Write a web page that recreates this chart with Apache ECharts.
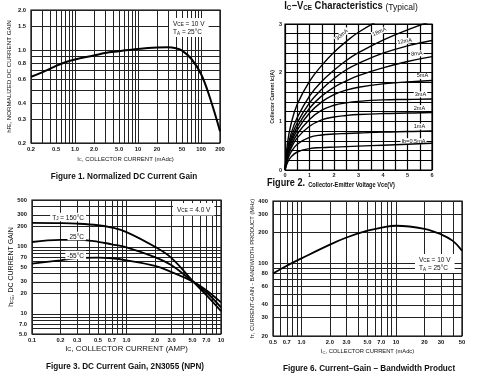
<!DOCTYPE html>
<html><head><meta charset="utf-8">
<script src="https://cdn.jsdelivr.net/npm/echarts@6/dist/echarts.min.js"></script>
<style>html,body{margin:0;padding:0;background:#fff}#c{width:480px;height:384px}</style>
</head><body><div id="c"></div>
<script>
// ---------- Figure 1: Normalized DC current gain ----------
const f1Ic   = [0.2, 0.3, 0.5, 0.7, 1, 2, 3, 5, 7, 10, 20, 30, 40, 50, 70, 100, 140, 200];
const f1Hfe  = [0.63, 0.68, 0.76, 0.81, 0.85, 0.91, 0.95, 0.98, 1.0, 1.02, 1.045, 1.05, 1.03, 0.99, 0.86, 0.66, 0.43, 0.245];
const f1XGrid = [0.2,0.3,0.4,0.5,0.6,0.7,0.8,0.9,1,2,3,4,5,6,7,8,9,10,20,30,40,50,60,70,80,90,100,200];
const f1XTickVals = [0.2,0.5,1,2,5,10,20,50,100,200];
const f1XTickText = ['0.2','0.5','1.0','2.0','5.0','10','20','50','100','200'];
const f1YGrid = [0.2,0.3,0.4,0.5,0.6,0.7,0.8,0.9,1.0,1.5,2.0];
const f1YTickVals = [0.2,0.3,0.4,0.6,0.8,1.0,1.5,2.0];
const f1YTickText = ['0.2','0.3','0.4','0.6','0.8','1.0','1.5','2.0'];

// ---------- Figure 2: Ic-Vce characteristics ----------
const f2Vce = [0, 0.1, 0.25, 0.5, 1, 1.5, 2, 2.5, 3, 4, 5, 6];
const f2Ib = ['30mA','18mA','12mA','8mA','5mA','3mA','2mA','1mA','Ib=0.5mA'];
const f2Ic30  = [0, 0.55, 0.95, 1.35, 1.82, 2.15, 2.42, 2.64, 2.83, 3.12, 3.35, 3.55];
const f2Ic18  = [0, 0.42, 0.75, 1.08, 1.52, 1.82, 2.05, 2.25, 2.41, 2.67, 2.88, 3.06];
const f2Ic12  = [0, 0.37, 0.67, 0.97, 1.38, 1.66, 1.88, 2.06, 2.19, 2.4, 2.55, 2.66];
const f2Ic8   = [0, 0.33, 0.61, 0.89, 1.27, 1.52, 1.7, 1.83, 1.94, 2.1, 2.23, 2.33];
const f2Ic5   = [0, 0.3, 0.56, 0.82, 1.17, 1.4, 1.55, 1.64, 1.7, 1.77, 1.81, 1.84];
const f2Ic3   = [0, 0.27, 0.5, 0.74, 1.04, 1.23, 1.33, 1.38, 1.41, 1.44, 1.45, 1.46];
const f2Ic2   = [0, 0.24, 0.45, 0.66, 0.9, 1.03, 1.09, 1.12, 1.14, 1.16, 1.17, 1.18];
const f2Ic1   = [0, 0.2, 0.37, 0.53, 0.67, 0.72, 0.74, 0.75, 0.76, 0.78, 0.79, 0.8];
const f2Ic05  = [0, 0.15, 0.27, 0.37, 0.44, 0.46, 0.47, 0.48, 0.49, 0.51, 0.53, 0.55];
const f2LabelIdx = [7, 9, 10, 10, 10, 10, 10, 10, 10];
const f2XTicks = ['0','1','2','3','4','5','6'];
const f2YTicks = ['0','1','2','3'];

// ---------- Figure 3: DC current gain 2N3055 ----------
const f3Ic    = [0.1, 0.2, 0.3, 0.5, 0.7, 1, 2, 3, 5, 7, 10];
const f3T150  = [228, 226, 222, 210, 194, 166, 100, 68, 31, 19, 11];
const f3T25   = [118, 127, 127, 119, 109, 98, 70, 53, 30.5, 21, 12.5];
const f3Tm55  = [56, 63, 68, 69, 67.5, 63, 52, 42, 30.5, 22.5, 14.8];
const f3Names = ['TJ = 150°C','25°C','-55°C'];
const f3XGrid = [0.1,0.2,0.3,0.4,0.5,0.6,0.7,0.8,0.9,1,2,3,4,5,6,7,8,9,10];
const f3XTickVals = [0.1,0.2,0.3,0.5,0.7,1,2,3,5,7,10];
const f3XTickText = ['0.1','0.2','0.3','0.5','0.7','1.0','2.0','3.0','5.0','7.0','10'];
const f3YGrid = [5,6,7,8,9,10,20,30,40,50,60,70,80,90,100,200,300,400,500];
const f3YTickVals = [5,7,10,20,30,50,70,100,200,300,500];
const f3YTickText = ['5.0','7.0','10','20','30','50','70','100','200','300','500'];

// ---------- Figure 6: current-gain bandwidth product ----------
const f4Ic = [0.5, 0.7, 1, 2, 3, 5, 7, 10, 20, 30, 40, 50];
const f4Ft = [80, 95, 112, 152, 178, 207, 221, 231, 216, 191, 165, 133];
const f4XGrid = [0.5,0.6,0.7,0.8,0.9,1,2,3,4,5,6,7,8,9,10,20,30,40,50];
const f4XTickVals = [0.5,0.7,1,2,3,5,7,10,20,30,50];
const f4XTickText = ['0.5','0.7','1.0','2.0','3.0','5.0','7.0','10','20','30','50'];
const f4YGrid = [20,30,40,50,60,70,80,90,100,200,300,400];
const f4YTickVals = [20,30,40,60,80,100,200,300,400];
const f4YTickText = ['20','30','40','60','80','100','200','300','400'];

const FONT = 'Liberation Sans, Arial, sans-serif';
const TICK = {color:'#111', fontSize:5.8, fontWeight:'bold', fontFamily:FONT};

function gridLines(dim, vals, tickVals, tickText, dist){
  return vals.map(v => {
    const item = {}; item[dim] = v;
    const k = tickVals.findIndex(t => Math.abs(t - v) < 1e-9);
    if (k >= 0) item.label = Object.assign({show:true, position:'start', formatter: tickText[k], distance: dist}, TICK);
    return item;
  });
}
function markLines(xv, xt, xl, yv, yt, yl){
  return {
    silent:true, symbol:['none','none'], animation:false,
    lineStyle:{color:'#222', width:1, type:'solid'},
    label:{show:false}, emphasis:{disabled:true},
    data: gridLines('xAxis', xv, xt, xl, 3).concat(gridLines('yAxis', yv, yt, yl, 5))
  };
}
function pairs(xs, ys){ return xs.map((x,i)=>[x, ys[i]]); }

function mkRich(sz){
  return {
    n:{fontSize:sz, fontFamily:FONT, color:'#111', lineHeight:sz+2, verticalAlign:'bottom'},
    s:{fontSize:sz*0.72, fontFamily:FONT, color:'#111', lineHeight:sz*0.72+0.5, verticalAlign:'bottom'}
  };
}
function nameStyle(sz){ return {fontFamily:FONT, fontSize:sz, color:'#111', rich: mkRich(sz)}; }

const chart = echarts.init(document.getElementById('c'), null, {renderer:'canvas'});

const grids = [
  {left:31, top:10, width:189, height:133},
  {left:285, top:24, width:147, height:146},
  {left:32, top:200, width:189, height:134},
  {left:273, top:201, width:189, height:135}
].map(g => Object.assign({show:true, borderColor:'#000', borderWidth:1.2, backgroundColor:'#fff'}, g));

function logAxis(gi, min, max, name, gap, isY, sz){
  return {
    type:'log', logBase:10, gridIndex:gi, min:min, max:max,
    axisLine:{show:false}, axisTick:{show:false}, axisLabel:{show:false}, splitLine:{show:false}, minorSplitLine:{show:false},
    name:name, nameLocation:'middle', nameGap:gap, nameRotate: isY ? 90 : 0, nameTextStyle:nameStyle(sz)
  };
}

const f2Curves = [f2Ic30, f2Ic18, f2Ic12, f2Ic8, f2Ic5, f2Ic3, f2Ic2, f2Ic1, f2Ic05];
const f2LabelStyle = [
  {offset:[1,-8], rotate:40}, {offset:[0,-9], rotate:24}, {offset:[-2,-5], rotate:10},
  {offset:[10,-7], rotate:5}, {offset:[15,-6], rotate:0}, {offset:[13,-5], rotate:0},
  {offset:[12,-5], rotate:0}, {offset:[12,-5], rotate:0}, {offset:[6,-3], rotate:0}
];

const series = [];
series.push({
  type:'line', xAxisIndex:0, yAxisIndex:0, data:pairs(f1Ic, f1Hfe), smooth:0.4, showSymbol:false,
  lineStyle:{color:'#000', width:2}, z:5,
  markLine: markLines(f1XGrid, f1XTickVals, f1XTickText, f1YGrid, f1YTickVals, f1YTickText)
});
f2Curves.forEach((c, i) => {
  const k = f2LabelIdx[i];
  series.push({
    type:'line', xAxisIndex:1, yAxisIndex:1, data:pairs(f2Vce, c), smooth:0.45, showSymbol:false,
    lineStyle:{color:'#000', width:1.4}, z:5,
    markPoint:{symbol:'circle', symbolSize:0, silent:true, animation:false,
      data:[{coord:[f2Vce[k], c[k]], label:{show:true, position:'inside', formatter:f2Ib[i],
        offset:f2LabelStyle[i].offset, rotate:f2LabelStyle[i].rotate,
        fontSize:5.6, fontFamily:FONT, color:'#111', backgroundColor:'#fff', padding:[0,1]}}]}
  });
});
[f3T150, f3T25, f3Tm55].forEach((c, i) => {
  const s = {type:'line', xAxisIndex:2, yAxisIndex:2, data:pairs(f3Ic, c), smooth:0.4, showSymbol:false,
    lineStyle:{color:'#000', width:1.8}, z:5, name:f3Names[i]};
  if (i === 0) s.markLine = markLines(f3XGrid, f3XTickVals, f3XTickText, f3YGrid, f3YTickVals, f3YTickText);
  series.push(s);
});
series.push({
  type:'line', xAxisIndex:3, yAxisIndex:3, data:pairs(f4Ic, f4Ft), smooth:0.4, showSymbol:false,
  lineStyle:{color:'#000', width:1.8}, z:5,
  markLine: markLines(f4XGrid, f4XTickVals, f4XTickText, f4YGrid, f4YTickVals, f4YTickText)
});

function txt(x, y, text, opts, sx){
  const el = {type:'text', x:x, y:y, z:100, silent:true,
    style:Object.assign({text:text, fontFamily:FONT, fontSize:6.5, fill:'#111', rich:mkRich(6.5)}, opts||{})};
  if (sx) { el.scaleX = sx; }
  return el;
}
const capRich = {
  cap:{fontSize:9.4, fontWeight:'bold', fontFamily:FONT, color:'#111'},
  f2:{fontSize:10.5, fontWeight:'bold', fontFamily:FONT, color:'#111', verticalAlign:'bottom', lineHeight:12},
  f2s:{fontSize:6.5, fontWeight:'bold', fontFamily:FONT, color:'#111', verticalAlign:'bottom', lineHeight:9},
  t:{fontSize:10.5, fontWeight:'bold', fontFamily:FONT, color:'#111', verticalAlign:'bottom', lineHeight:12},
  ts:{fontSize:7, fontWeight:'bold', fontFamily:FONT, color:'#111', verticalAlign:'bottom', lineHeight:10},
  tn:{fontSize:9.5, fontFamily:FONT, color:'#111', verticalAlign:'bottom', lineHeight:12}
};

const graphics = [
  txt(124, 176, '{cap|Figure 1. Normalized DC Current Gain}', {align:'center', verticalAlign:'middle', rich:capRich}, 0.87),
  txt(125, 366, '{cap|Figure 3. DC Current Gain, 2N3055 (NPN)}', {align:'center', verticalAlign:'middle', rich:capRich}, 0.87),
  txt(369, 368, '{cap|Figure 6. Current\u2013Gain \u2013 Bandwidth Product}', {align:'center', verticalAlign:'middle', rich:capRich}, 0.87),
  txt(267, 183, '{f2|Figure 2.}{f2s|  Collector-Emitter Voltage Vce(V)}', {align:'left', verticalAlign:'middle', rich:capRich}, 0.87),
  txt(351, 6, '{t|I}{ts|C}{t|\u2212V}{ts|CE}{t| Characteristics }{tn|(Typical)}', {align:'center', verticalAlign:'middle', rich:capRich}, 0.9),
  txt(169, 18, '{n|V}{s|CE}{n| = 10 V}\n{n|T}{s|A}{n| = 25°C}', {backgroundColor:'#fff', padding:[1,4,1,4]}),
  txt(173, 203, '{n|V}{s|CE}{n| = 4.0 V}', {backgroundColor:'#fff', padding:[2,4,2,4]}),
  txt(415, 254, '{n|V}{s|CE}{n| = 10 V}\n{n|T}{s|A}{n| = 25°C}', {backgroundColor:'#fff', padding:[1,4,1,4]}),
  txt(86, 217, '{n|T}{s|J}{n| = 150°C}', {align:'right', verticalAlign:'middle', backgroundColor:'#fff', padding:[0,2]}),
  txt(86, 236, '{n|25°C}', {align:'right', verticalAlign:'middle', backgroundColor:'#fff', padding:[0,2]}),
  txt(86, 255, '{n|-55°C}', {align:'right', verticalAlign:'middle', backgroundColor:'#fff', padding:[0,2]})
];

chart.setOption({
  animation:false,
  grid:grids,
  xAxis:[
    logAxis(0, 0.2, 200, '{n|I}{s|C}{n|, COLLECTOR CURRENT (mAdc)}', 11, false, 6),
    {type:'value', gridIndex:1, min:0, max:6, interval:0.5,
      axisLine:{show:false}, axisTick:{show:false},
      axisLabel:{fontSize:5.5, fontWeight:'bold', fontFamily:FONT, color:'#222', margin:2,
        formatter:v => (Math.abs(v - Math.round(v)) < 1e-6 ? f2XTicks[Math.round(v)] : '')},
      splitLine:{show:true, lineStyle:{color:'#000', width:1.2}}},
    logAxis(2, 0.1, 10, '{n|I}{s|C}{n|, COLLECTOR CURRENT (AMP)}', 9, false, 7.8),
    logAxis(3, 0.5, 50, '{n|I}{s|C}{n|, COLLECTOR CURRENT (mAdc)}', 11, false, 5.8)
  ],
  yAxis:[
    logAxis(0, 0.2, 2.0, '{n|h}{s|FE}{n|, NORMALIZED DC CURRENT GAIN}', 19, true, 6.2),
    {type:'value', gridIndex:1, min:0, max:3, interval:0.2,
      axisLine:{show:false}, axisTick:{show:false},
      axisLabel:{fontSize:5.5, fontWeight:'bold', fontFamily:FONT, color:'#222', margin:3,
        formatter:v => (Math.abs(v - Math.round(v)) < 1e-6 ? f2YTicks[Math.round(v)] : '')},
      splitLine:{show:true, lineStyle:{color:'#000', width:1.2}},
      name:'Collector Current Ic(A)', nameLocation:'middle', nameRotate:90, nameGap:10,
      nameTextStyle:{fontFamily:FONT, fontSize:5, fontWeight:'bold', color:'#222'}},
    logAxis(2, 5, 500, '{n|h}{s|FE}{n|, DC CURRENT GAIN}', 17, true, 7),
    logAxis(3, 20, 400, '{n|f}{s|T}{n|, CURRENT-GAIN - BANDWIDTH PRODUCT (MHz)}', 18, true, 5.8)
  ],
  series:series,
  graphic:graphics
});
</script></body></html>
